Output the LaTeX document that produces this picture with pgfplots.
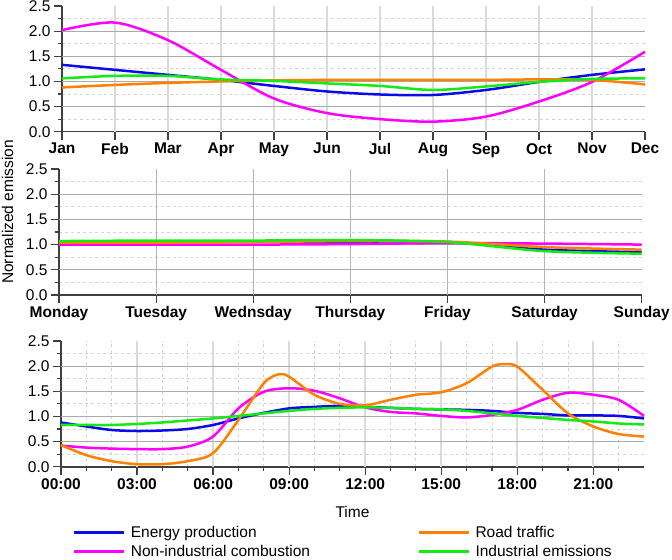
\documentclass[border=0pt]{standalone}
\usepackage{fontspec}
\setmainfont{Liberation Sans}
\usepackage{pgfplots}
\pgfplotsset{compat=1.18}
\definecolor{cblue}{RGB}{10,10,235}
\definecolor{cmag}{RGB}{255,0,255}
\definecolor{corange}{RGB}{255,128,0}
\definecolor{cgreen}{RGB}{20,235,20}
\definecolor{axgray}{RGB}{64,64,64}
\definecolor{majgrid}{RGB}{170,170,170}
\definecolor{vgrid}{RGB}{218,218,218}
\definecolor{vgridm}{RGB}{180,180,180}
\definecolor{mingrid}{RGB}{212,212,212}
\newcommand{\fs}{\fontsize{15.5bp}{18bp}\selectfont}
\pgfplotsset{
 panel/.style={
  scale only axis, width=583bp, height=125.7bp,
  ymin=0, ymax=2.5, ytick={0,0.5,...,2.5}, minor ytick={0.25,0.75,...,2.25},
  /pgf/number format/assume math mode=true,
  yticklabel style={/pgf/number format/fixed, /pgf/number format/fixed zerofill, /pgf/number format/precision=1, font=\fs},
  xticklabel style={font=\fs\bfseries},
  axis lines*=left,
  axis line style={draw=axgray, line width=1.6bp},
  tick style={draw=axgray, line width=1.2bp},
  tick align=outside,
  major tick length=8bp, minor tick length=4bp,
  yminorgrids=true,
  minor grid style={draw=mingrid, dashed, line width=0.8bp},
  major grid style={draw=majgrid, line width=0.9bp},
  extra y ticks={0.5,1,1.5,2},
  extra y tick labels={},
  extra y tick style={ymajorgrids=true, major tick length=0pt},
  every axis plot/.append style={line width=2.5bp, smooth, no marks},
  clip=false,
 }
}
\begin{document}
\begin{tikzpicture}
\useasboundingbox (0,0) rectangle (672bp,560bp);
% top: months
\begin{axis}[panel, at={(62bp,428.3bp)}, anchor=south west,
  xmin=0, xmax=11, xtick={0,...,11},
  xticklabels={Jan,Feb,Mar,Apr,May,Jun,Jul,Aug,Sep,Oct,Nov,Dec},
  every axis x grid/.append style={draw=vgrid, line width=1.8bp},
  extra x ticks={1,...,10}, extra x tick labels={},
  extra x tick style={xmajorgrids=true, major tick length=0pt}]
\addplot[cblue] coordinates {(0,1.33)(1,1.23)(2,1.13)(3,1.03)(4,0.91)(5,0.80)(6,0.74)(7,0.73)(8,0.83)(9,0.99)(10,1.13)(11,1.24)};
\addplot[cmag] coordinates {(0,2.02)(1,2.17)(2,1.82)(3,1.23)(4,0.66)(5,0.37)(6,0.25)(7,0.20)(8,0.30)(9,0.60)(10,0.99)(11,1.59)};
\addplot[corange] coordinates {(0,0.88)(1,0.93)(2,0.97)(3,1.00)(4,1.02)(5,1.03)(6,1.03)(7,1.03)(8,1.03)(9,1.04)(10,1.03)(11,0.94)};
\addplot[cgreen] coordinates {(0,1.06)(1,1.11)(2,1.11)(3,1.04)(4,1.01)(5,0.96)(6,0.91)(7,0.83)(8,0.90)(9,0.99)(10,1.05)(11,1.06)};
\end{axis}
% middle: days
\begin{axis}[panel, at={(59bp,265bp)}, anchor=south west, width=582.7bp, height=126bp,
  xmin=0, xmax=6, xtick={0,...,6},
  xticklabels={Monday,Tuesday,Wednsday,Thursday,Friday,Saturday,Sunday},
  every axis x grid/.append style={draw=vgridm, line width=1bp},
  extra x ticks={1,...,5}, extra x tick labels={},
  extra x tick style={xmajorgrids=true, major tick length=0pt}]
\addplot[cblue] coordinates {(0,1.05)(1,1.06)(2,1.06)(3,1.06)(4,1.05)(5,0.90)(6,0.85)};
\addplot[cmag] coordinates {(0,1.00)(1,1.00)(2,1.00)(3,1.01)(4,1.03)(5,1.02)(6,1.00)};
\addplot[corange] coordinates {(0,1.04)(1,1.04)(2,1.05)(3,1.07)(4,1.06)(5,0.95)(6,0.90)};
\addplot[cgreen] coordinates {(0,1.07)(1,1.08)(2,1.08)(3,1.09)(4,1.05)(5,0.87)(6,0.82)};
\end{axis}
% bottom: hours
\begin{axis}[panel, at={(61bp,93.3bp)}, anchor=south west,
  xmin=0, xmax=23, xtick={0,3,...,21},
  xticklabels={00:00,03:00,06:00,09:00,12:00,15:00,18:00,21:00},
  minor xtick={1,2,4,5,7,8,10,11,13,14,16,17,19,20,22},
  xminorgrids=true,
  extra x ticks={3,6,...,21}, extra x tick labels={},
  extra x tick style={xmajorgrids=true, major tick length=0pt, every axis x grid/.append style={draw=vgrid, line width=1.8bp}},
  xlabel={Time}, xlabel style={font=\fs, yshift=-2bp},
  legend columns=2,
  legend cell align=left,
  legend style={draw=none, fill=none, font=\fs, at={(0.02,-0.46)}, anchor=north west,
    /tikz/every odd column/.append style={column sep=4bp},
    /tikz/every even column/.append style={column sep=106bp},
    row sep=3.2bp, inner sep=0pt, nodes={inner sep=1.5bp}},
  legend image code/.code={\draw[#1, line width=2.5bp] (0bp,0bp) -- (50bp,0bp);}]
\addlegendimage{cblue}\addlegendentry{Energy production}
\addlegendimage{corange}\addlegendentry{Road traffic}
\addlegendimage{cmag}\addlegendentry{Non-industrial combustion}
\addlegendimage{cgreen}\addlegendentry{Industrial emissions}
\addplot[cblue, forget plot] coordinates {(0,0.88)(1,0.80)(2,0.73)(3,0.71)(4,0.72)(5,0.75)(6,0.83)(7,0.96)(8,1.07)(9,1.16)(10,1.19)(11,1.21)(12,1.19)(13,1.17)(14,1.15)(15,1.14)(16,1.13)(17,1.11)(18,1.07)(19,1.05)(20,1.02)(21,1.02)(22,1.01)(23,0.96)};
\addplot[cmag, forget plot] coordinates {(0,0.42)(1,0.38)(2,0.36)(3,0.35)(4,0.35)(5,0.40)(6,0.60)(7,1.16)(8,1.49)(9,1.56)(10,1.51)(11,1.36)(12,1.18)(13,1.09)(14,1.06)(15,1.01)(16,0.98)(17,1.03)(18,1.13)(19,1.33)(20,1.47)(21,1.43)(22,1.33)(23,1.01)};
\addplot[corange, forget plot] coordinates {(0,0.43)(1,0.23)(2,0.11)(3,0.05)(4,0.05)(5,0.11)(6,0.27)(7,0.93)(8,1.66)(8.6,1.84)(9,1.79)(10,1.43)(11,1.25)(12,1.22)(13,1.33)(14,1.43)(15,1.48)(16,1.66)(17,1.99)(17.5,2.04)(18,1.99)(19,1.53)(20,1.06)(21,0.80)(22,0.65)(23,0.60)};
\addplot[cgreen, forget plot] coordinates {(0,0.83)(1,0.83)(2,0.83)(3,0.85)(4,0.88)(5,0.92)(6,0.96)(7,1.01)(8,1.06)(9,1.11)(10,1.15)(11,1.17)(12,1.18)(13,1.17)(14,1.15)(15,1.14)(16,1.11)(17,1.06)(18,1.01)(19,0.97)(20,0.93)(21,0.90)(22,0.86)(23,0.84)};
\end{axis}
\node[rotate=90, font=\fs] at (7.5bp,348bp) {Normalized emission};
\end{tikzpicture}
\end{document}
